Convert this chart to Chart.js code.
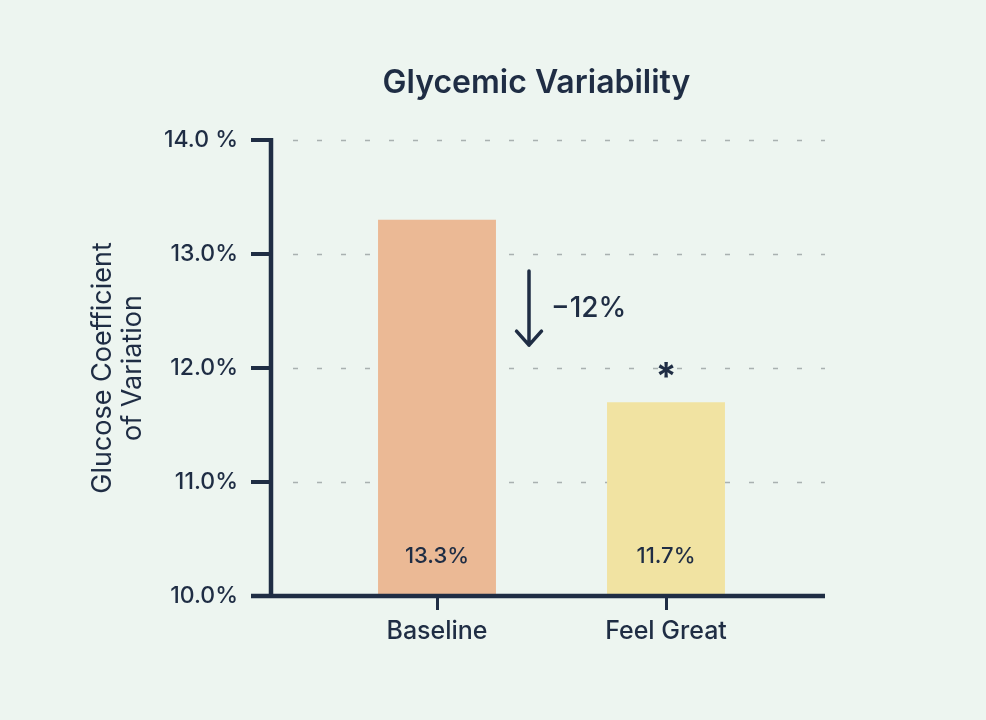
<!DOCTYPE html>
<html>
<head>
<meta charset="utf-8">
<script src="https://cdn.jsdelivr.net/npm/chart.js@4.4.0/dist/chart.umd.min.js"></script>
<style>
  html, body { margin: 0; padding: 0; background: #EDF5F0; }
  #wrap { width: 986px; height: 720px; position: relative; }
</style>
</head>
<body>
<div id="wrap"><canvas id="myChart"></canvas></div>
<script>
// data
const categories = ['Baseline', 'Feel Great'];
const cvValues = [13.3, 11.7];
const valueLabels = ['13.3%', '11.7%'];
const barColors = ['#EBB995', '#F1E3A2'];
const yTickLabels = ['10.0%', '11.0%', '12.0%', '13.0%', '14.0 %'];
const yTitle = ['Glucose Coefficient', 'of Variation'];
const chartTitle = 'Glycemic Variability';
const changeLabel = '\u221212%';
const sigMark = '*';

const navy = '#1F2D44';
const fontFamily = 'Inter, "Noto Sans", sans-serif';

// axes, dashed grid, title and annotations
const decorations = {
  id: 'decorations',
  beforeDatasetsDraw(chart) {
    const { ctx, chartArea, scales: { y } } = chart;
    const axisX = chartArea.left - 51.5;
    ctx.save();
    ctx.strokeStyle = '#A9B1B0';
    ctx.lineWidth = 1.5;
    ctx.setLineDash([5, 19]);
    y.ticks.forEach(t => {
      if (t.value === y.min) return;
      const py = Math.round(y.getPixelForValue(t.value)) + 0.5;
      ctx.beginPath();
      ctx.moveTo(axisX + 22, py);
      ctx.lineTo(chartArea.right + 44.5, py);
      ctx.stroke();
    });
    ctx.restore();
  },
  afterDatasetsDraw(chart) {
    const { ctx, chartArea, scales: { x, y } } = chart;
    const axisX = chartArea.left - 51.5;
    const right = chartArea.right + 44.5;
    const bottom = y.getPixelForValue(y.min);
    ctx.save();
    ctx.strokeStyle = navy;
    ctx.lineCap = 'butt';

    // y axis + ticks
    ctx.lineWidth = 4.5;
    ctx.beginPath();
    ctx.moveTo(axisX, y.getPixelForValue(y.max) - 2);
    ctx.lineTo(axisX, bottom);
    ctx.stroke();
    ctx.lineWidth = 4;
    y.ticks.forEach(t => {
      const py = y.getPixelForValue(t.value);
      ctx.beginPath();
      ctx.moveTo(axisX - 20, py);
      ctx.lineTo(axisX, py);
      ctx.stroke();
    });

    // x axis
    ctx.lineWidth = 4.5;
    ctx.beginPath();
    ctx.moveTo(axisX - 20, bottom);
    ctx.lineTo(right, bottom);
    ctx.stroke();

    // value labels inside bars
    const meta = chart.getDatasetMeta(0);
    ctx.fillStyle = navy;
    ctx.textAlign = 'center';
    ctx.textBaseline = 'middle';
    ctx.font = '500 22px ' + fontFamily;
    meta.data.forEach((bar, i) => {
      ctx.fillText(valueLabels[i], bar.x, bottom - 40);
    });

    // change arrow
    const ax = meta.data[0].x + 92;
    const aTop = y.getPixelForValue(12.85);
    const aTip = y.getPixelForValue(12.2);
    ctx.lineWidth = 3.5;
    ctx.lineCap = 'round';
    ctx.lineJoin = 'round';
    ctx.beginPath();
    ctx.moveTo(ax, aTop);
    ctx.lineTo(ax, aTip);
    ctx.moveTo(ax - 12.5, aTip - 14);
    ctx.lineTo(ax, aTip);
    ctx.lineTo(ax + 12.5, aTip - 14);
    ctx.stroke();
    ctx.textAlign = 'left';
    ctx.font = '500 28px ' + fontFamily;
    ctx.fillText(changeLabel, ax + 22, aTop + 37);

    // significance mark
    const fg = meta.data[1];
    ctx.textAlign = 'center';
    ctx.font = '700 38px ' + fontFamily;
    ctx.fillText(sigMark, fg.x, fg.y - 24);

    // title
    ctx.font = '600 32px ' + fontFamily;
    ctx.fillText(chartTitle, 536.5, 83);
    ctx.restore();
  }
};

const ctx = document.getElementById('myChart').getContext('2d');
const myChart = new Chart(ctx, {
  type: 'bar',
  data: {
    labels: categories,
    datasets: [{
      data: cvValues,
      backgroundColor: barColors,
      borderWidth: 0,
      barPercentage: 0.515,
      categoryPercentage: 1
    }]
  },
  options: {
    responsive: true,
    maintainAspectRatio: false,
    animation: false,
    layout: {
      padding: { left: 80, right: 205.5, top: 140, bottom: 0 }
    },
    plugins: {
      legend: { display: false },
      tooltip: { enabled: false },
      title: { display: false }
    },
    scales: {
      x: {
        offset: true,
        border: { display: false },
        grid: {
          display: true,
          offset: false,
          drawOnChartArea: false,
          drawTicks: true,
          tickLength: 14,
          tickWidth: 3,
          tickColor: navy
        },
        ticks: {
          color: navy,
          padding: 6,
          font: { family: fontFamily, size: 25, weight: '500' }
        },
        afterFit(scale) { scale.height = 124; }
      },
      y: {
        min: 10,
        max: 14,
        border: { display: false },
        grid: { display: false, drawTicks: false },
        ticks: {
          stepSize: 1,
          color: navy,
          padding: 84.5,
          font: { family: fontFamily, size: 23, weight: '500' },
          callback: (v, i) => yTickLabels[i]
        },
        title: {
          display: true,
          text: yTitle,
          color: navy,
          padding: { top: 8, bottom: 0 },
          font: { family: fontFamily, size: 27, weight: '400', lineHeight: 1.11 }
        },
        afterFit(scale) { scale.width = 242.5; }
      }
    }
  },
  plugins: [decorations]
});
</script>
</body>
</html>
